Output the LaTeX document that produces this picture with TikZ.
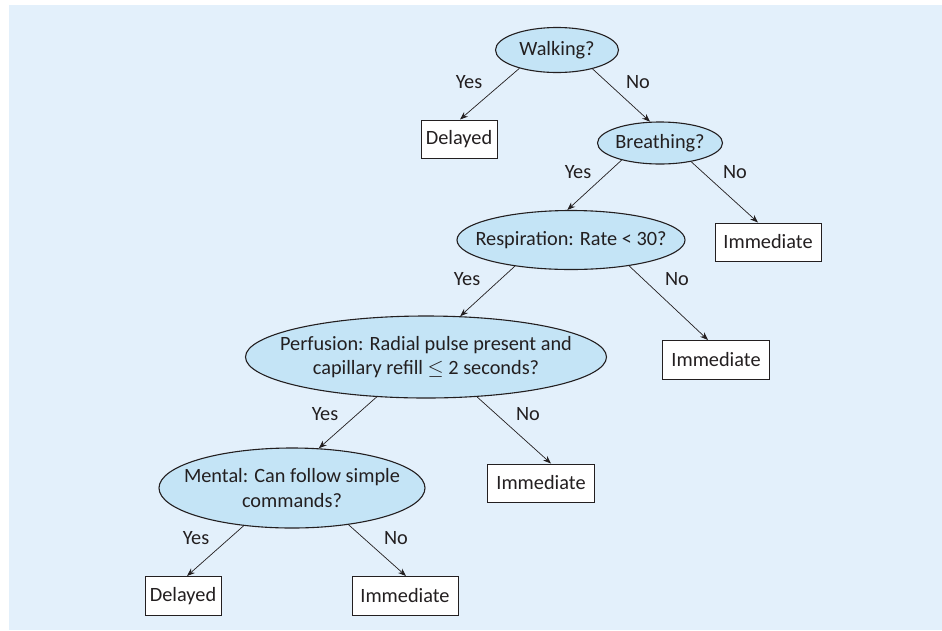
\documentclass[tikz,border=0pt]{standalone}
\usepackage{fontspec}
\setmainfont{Carlito}
\usetikzlibrary{shapes.geometric,arrows.meta}
\definecolor{bgblue}{RGB}{227,240,251}
\definecolor{qfill}{RGB}{196,228,246}
\definecolor{ink}{RGB}{35,31,32}
\tikzset{
  qnode/.style={ellipse, draw=ink, line width=1.1pt, fill=qfill, inner sep=0pt},
  qtext/.style={text=ink, align=center, font=\fontsize{20.3}{24.5}\selectfont, inner sep=0pt},
  leaf/.style={rectangle, draw=ink, line width=1pt, fill=white, inner sep=0pt, text=ink, font=\fontsize{20.3}{24.5}\selectfont},
  lbl/.style={text=ink, font=\fontsize{20.3}{24.5}\selectfont, inner sep=0pt},
  conn/.style={draw=ink, line width=0.7pt, -{Stealth[length=8pt,width=6pt]}}
}
\begin{document}
\begin{tikzpicture}[x=1pt,y=-1pt]
\useasboundingbox (0,0) rectangle (942,630);
\fill[bgblue] (9,5) rectangle (942,630);
% questions
\node[qnode, minimum width=123pt, minimum height=45pt] (walk) at (557,50) {};
\node[qtext] at (walk.center) {Walking?};
\node[qnode, minimum width=125pt, minimum height=42pt] (breath) at (660,143) {};
\node[qtext] at (breath.center) {Breathing?};
\node[qnode, minimum width=228pt, minimum height=59pt] (resp) at (571,240) {};
\node[qtext] at (resp.center) {Respiration: Rate < 30?};
\node[qnode, minimum width=361pt, minimum height=82pt] (perf) at (426,357) {};
\node[qtext] at (perf.center) {Perfusion: Radial pulse present and\\capillary refill \smash{\ensuremath{\leq}} 2 seconds?};
\node[qnode, minimum width=266pt, minimum height=80pt] (ment) at (292,488) {};
\node[qtext] at (ment.center) {Mental: Can follow simple\\commands?};
% leaves
\node[leaf, minimum width=76pt, minimum height=38pt] (del1) at (459,139) {Delayed};
\node[leaf, minimum width=106pt, minimum height=38pt] (imm1) at (768,242) {Immediate};
\node[leaf, minimum width=107pt, minimum height=39pt] (imm2) at (716,360) {Immediate};
\node[leaf, minimum width=107pt, minimum height=38pt] (imm3) at (541,483) {Immediate};
\node[leaf, minimum width=76pt, minimum height=39pt] (del2) at (183,596) {Delayed};
\node[leaf, minimum width=106pt, minimum height=39pt] (imm4) at (405,596) {Immediate};
% connectors
\draw[conn] (walk.206) -- ([xshift=1pt]del1.north);
\draw[conn] (walk.-28) -- (breath.115);
\draw[conn] (breath.204) -- (resp.97);
\draw[conn] (breath.-31) -- ([xshift=-10pt]imm1.north);
\draw[conn] (resp.205) -- (perf.50);
\draw[conn] (resp.-24) -- ([xshift=-8pt]imm2.north);
\draw[conn] (perf.-38) -- ([xshift=10pt]imm3.north);
\draw[conn] (perf.219) -- (ment.56);
\draw[conn] (ment.218) -- ([xshift=4pt]del2.north);
\draw[conn] (ment.-33) -- ([xshift=1pt]imm4.north);
% labels
\node[lbl] (y1) at (469,82) {Yes};
\node[lbl] (n1) at (638,82) {No};
\node[lbl] (y2) at (578,172) {Yes};
\node[lbl] (n2) at (735,172) {No};
\node[lbl] (y3) at (467,279) {Yes};
\node[lbl] (n3) at (677,279) {No};
\node[lbl] (y4) at (325,414) {Yes};
\node[lbl] (n4) at (528,414) {No};
\node[lbl] (y5) at (196,538) {Yes};
\node[lbl] (n5) at (396,538) {No};
\end{tikzpicture}
\end{document}
